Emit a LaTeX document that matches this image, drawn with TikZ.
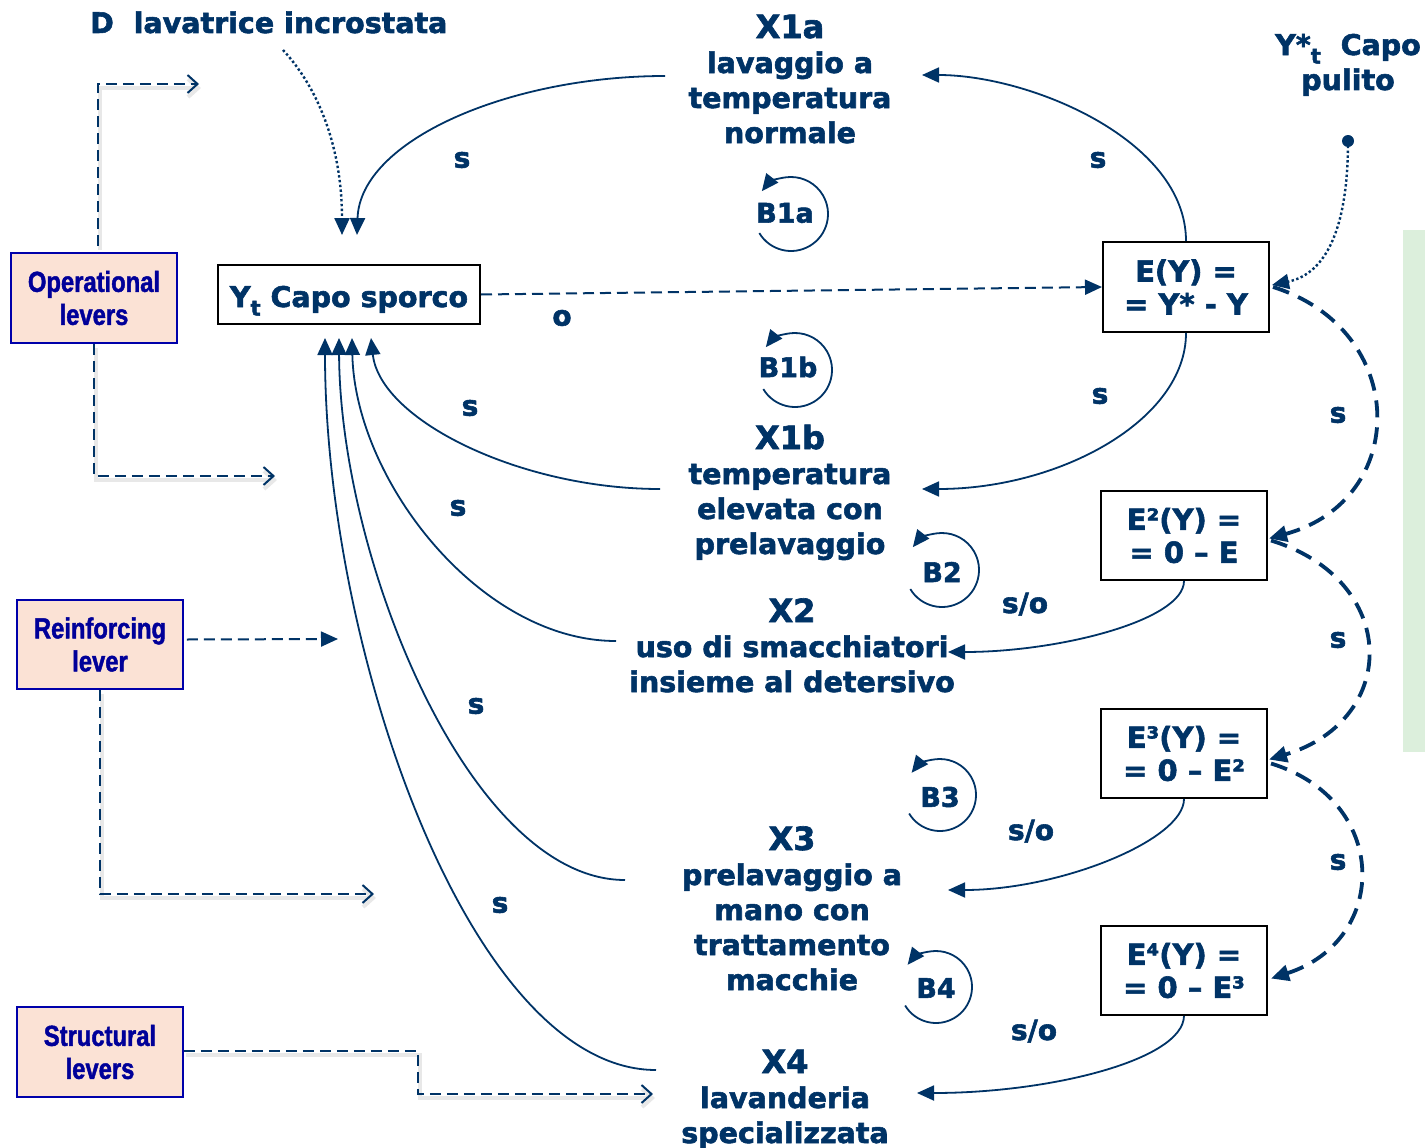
\documentclass[tikz,border=0pt]{standalone}
\usepackage{fontspec}
\setmainfont{DejaVu Sans}[BoldFeatures={FakeBold=2}]
\newfontfamily\narrowfont{Liberation Sans}[FakeStretch=0.82,BoldFeatures={FakeBold=1.5}]
\usetikzlibrary{arrows.meta,calc}
\definecolor{navy}{RGB}{0,51,102}
\definecolor{levtxt}{RGB}{0,0,153}
\definecolor{levfill}{RGB}{251,226,213}
\definecolor{levdraw}{RGB}{0,0,170}
\definecolor{mint}{RGB}{220,239,220}
\newcommand{\lowsub}[1]{\raisebox{-0.3em}{\fontsize{21}{21}\selectfont #1}}
\begin{document}
\begin{tikzpicture}[x=1pt,y=-1pt,
  every node/.style={inner sep=0pt},
  txt/.style={text=navy,font=\bfseries\fontsize{28.5}{35}\selectfont},
  block/.style={txt,align=center,anchor=base},
  small/.style={text=navy,font=\bfseries\fontsize{28}{30}\selectfont},
  ebox/.style={draw=black,line width=2pt,minimum width=166pt,minimum height=89pt,
    align=center,text=navy,font=\bfseries\fontsize{29}{33}\selectfont},
  lever/.style={draw=levdraw,fill=levfill,line width=1.6pt,minimum width=166pt,
    minimum height=89pt,align=center,text=levtxt,
    font=\narrowfont\bfseries\fontsize{29}{33}\selectfont},
  tip/.style={-{Triangle[length=17pt,width=15pt]}},
  link/.style={navy,line width=1.8pt,tip},
  dlink/.style={navy,line width=2pt,dash pattern=on 11pt off 6pt,tip},
  tlink/.style={navy,line width=3.8pt,dash pattern=on 17pt off 10pt,
    -{Triangle[length=18pt,width=16pt]}},
  dotlink/.style={navy,line width=2.4pt,dash pattern=on 2.4pt off 2.4pt,tip},
  shade/.style={preaction={draw=black!9,line width=4pt,
    transform canvas={xshift=2pt,yshift=-4pt}}},
  levlink/.style={navy,line width=2pt,dash pattern=on 11pt off 6pt,shade,
    -{Straight Barb[length=10pt,width=18pt]}},
  levlinkf/.style={navy,line width=2pt,dash pattern=on 11pt off 6pt,tip},
  loopar/.style={navy,line width=1.8pt,tip},
  blabel/.style={text=navy,font=\bfseries\fontsize{27}{30}\selectfont}
]
\path[use as bounding box] (0,0) rectangle (1425,1148);
\fill[mint] (1403,230) rectangle (1425,752);

% variables (multi-line blocks are anchored on their last baseline)
\node[txt,anchor=base west] (D) at (90,33) {D\ \ lavatrice incrostata};
\node[draw=black,line width=2pt,minimum width=262pt,minimum height=59pt,txt,
  text height=27pt,text depth=2pt]
  (Yt) at (349,294.5) {Y\lowsub{t} Capo sporco};
\node[txt,align=center,anchor=base] (Ystar) at (1348,90)
  {Y*\lowsub{t}\ \ Capo\\pulito};

\node[block] (X1a) at (790,143)
  {{\fontsize{32}{37}\selectfont X1a}\\lavaggio a\\temperatura\\normale};
\node[block] (X1b) at (790,554)
  {{\fontsize{32}{37}\selectfont X1b}\\temperatura\\elevata con\\prelavaggio};
\node[block] (X2) at (792,692)
  {{\fontsize{32}{37}\selectfont X2}\\uso di smacchiatori\\insieme al detersivo};
\node[block] (X3) at (792,990)
  {{\fontsize{32}{37}\selectfont X3}\\prelavaggio a\\mano con\\trattamento\\macchie};
\node[block] (X4) at (785,1143)
  {{\fontsize{32}{37}\selectfont X4}\\lavanderia\\specializzata};

% gap boxes
\node[ebox,minimum height=90pt] (E1) at (1186,287) {E(Y) =\\= Y* - Y};
\node[ebox] (E2) at (1184,535.5) {E²(Y) =\\= 0 – E};
\node[ebox] (E3) at (1184,753.5) {E³(Y) =\\= 0 – E²};
\node[ebox] (E4) at (1184,970.5) {E⁴(Y) =\\= 0 – E³};

% levers
\node[lever,minimum height=90pt] (Op) at (94,298) {Operational\\levers};
\node[lever] (Re) at (100,644.5) {Reinforcing\\lever};
\node[lever,minimum height=90pt] (St) at (100,1052) {Structural\\levers};

% connector end points
\coordinate (d-src) at (283,50);
\coordinate (ys-dot) at (1348,141);
\coordinate (yt-t1) at (342,235);
\coordinate (yt-t2) at (357,235);
\coordinate (yt-b1) at (325,338);
\coordinate (yt-b2) at (339,338);
\coordinate (yt-b3) at (352,338);
\coordinate (yt-b4) at (371,338);
\coordinate (x1a-w) at (665,76);
\coordinate (x1a-e) at (922,75);
\coordinate (x1b-w) at (660,489);
\coordinate (x1b-e) at (922,489);
\coordinate (x2-w) at (616,641);
\coordinate (x2-e) at (948,652);
\coordinate (x3-w) at (625,880);
\coordinate (x3-e) at (948,890);
\coordinate (x4-w) at (656,1070);
\coordinate (x4-e) at (917,1093);
\coordinate (op-a) at (199,84);
\coordinate (op-b) at (275,476);
\coordinate (re-a) at (338,639);
\coordinate (re-b) at (374,894);
\coordinate (st-a) at (653,1094);

% balancing links
\draw[link] (E1.north) .. controls (1186,140) and (1030,75) .. (x1a-e);
\draw[link] (x1a-w) .. controls (510,76) and (360,140) .. (yt-t2);
\draw[link] (E1.south) .. controls (1186,420) and (1060,489) .. (x1b-e);
\draw[link] (x1b-w) .. controls (520,489) and (380,420) .. (yt-b4);
\draw[link] (E2.south) .. controls (1184,620) and (1060,652) .. (x2-e);
\draw[link] (x2-w) .. controls (480,641) and (355,480) .. (yt-b3);
\draw[link] (E3.south) .. controls (1184,840) and (1060,890) .. (x3-e);
\draw[link] (x3-w) .. controls (470,880) and (340,560) .. (yt-b2);
\draw[link] (E4.south) .. controls (1183,1060) and (1050,1093) .. (x4-e);
\draw[link] (x4-w) .. controls (470,1070) and (325,650) .. (yt-b1);

% measured state to gap
\draw[dlink] (Yt.east) -- (E1.west);

% gap cascade
\draw[tlink] ($(E1.east)+(3,0)$) .. controls (1410,330) and (1410,500) .. ($(E2.east)+(1,3)$);
\draw[tlink] ($(E2.east)+(3,5)$) .. controls (1400,580) and (1400,720) .. ($(E3.east)+(1,6)$);
\draw[tlink] ($(E3.east)+(3,10)$) .. controls (1390,800) and (1390,940) .. ($(E4.east)+(3,8)$);

% goal and disturbance
\fill[navy] (ys-dot) circle (6);
\draw[dotlink] (ys-dot) .. controls (1348,240) and (1320,275) .. ($(E1.east)+(2,-2)$);
\draw[dotlink] (d-src) .. controls (320,90) and (342,150) .. (yt-t1);

% loop markers
\node[blabel] (B1a) at (785,213) {B1a};
\node[blabel] (B1b) at (788,367) {B1b};
\node[blabel] (B2) at (942,572) {B2};
\node[blabel] (B3) at (940,797) {B3};
\node[blabel] (B4) at (936,988) {B4};
\draw[loopar] (791,214) ++(149:37) arc[start angle=149,end angle=-142,radius=37];
\draw[loopar] (795,370) ++(149:37) arc[start angle=149,end angle=-142,radius=37];
\draw[loopar] (942,570) ++(149:37) arc[start angle=149,end angle=-142,radius=37];
\draw[loopar] (940,795) ++(149:36) arc[start angle=149,end angle=-142,radius=36];
\draw[loopar] (936,987) ++(149:36) arc[start angle=149,end angle=-142,radius=36];

% polarity labels
\node[small] (p1) at (462,160) {s};
\node[small] (p2) at (1098,160) {s};
\node[small] (p3) at (470,408) {s};
\node[small] (p4) at (1100,396) {s};
\node[small] (p5) at (458,508) {s};
\node[small] (p6) at (476,706) {s};
\node[small] (p7) at (500,905) {s};
\node[small] (p8) at (1338,415) {s};
\node[small] (p9) at (1338,640) {s};
\node[small] (p10) at (1338,862) {s};
\node[small] (p11) at (562,318) {o};
\node[small,anchor=base] (p12) at (1025,613) {s/o};
\node[small,anchor=base] (p13) at (1031,840) {s/o};
\node[small,anchor=base] (p14) at (1034,1040) {s/o};

% lever connectors
\draw[levlink] ($(Op.north)+(4,-6)$) |- (op-a);
\draw[levlink] (Op.south) |- (op-b);
\draw[levlinkf] ($(Re.east)+(3,-5)$) -- (re-a);
\draw[levlink] (Re.south) |- (re-b);
\draw[levlink] ($(St.east)+(0,-1)$) -| (418,1094) -- (st-a);
\end{tikzpicture}
\end{document}
